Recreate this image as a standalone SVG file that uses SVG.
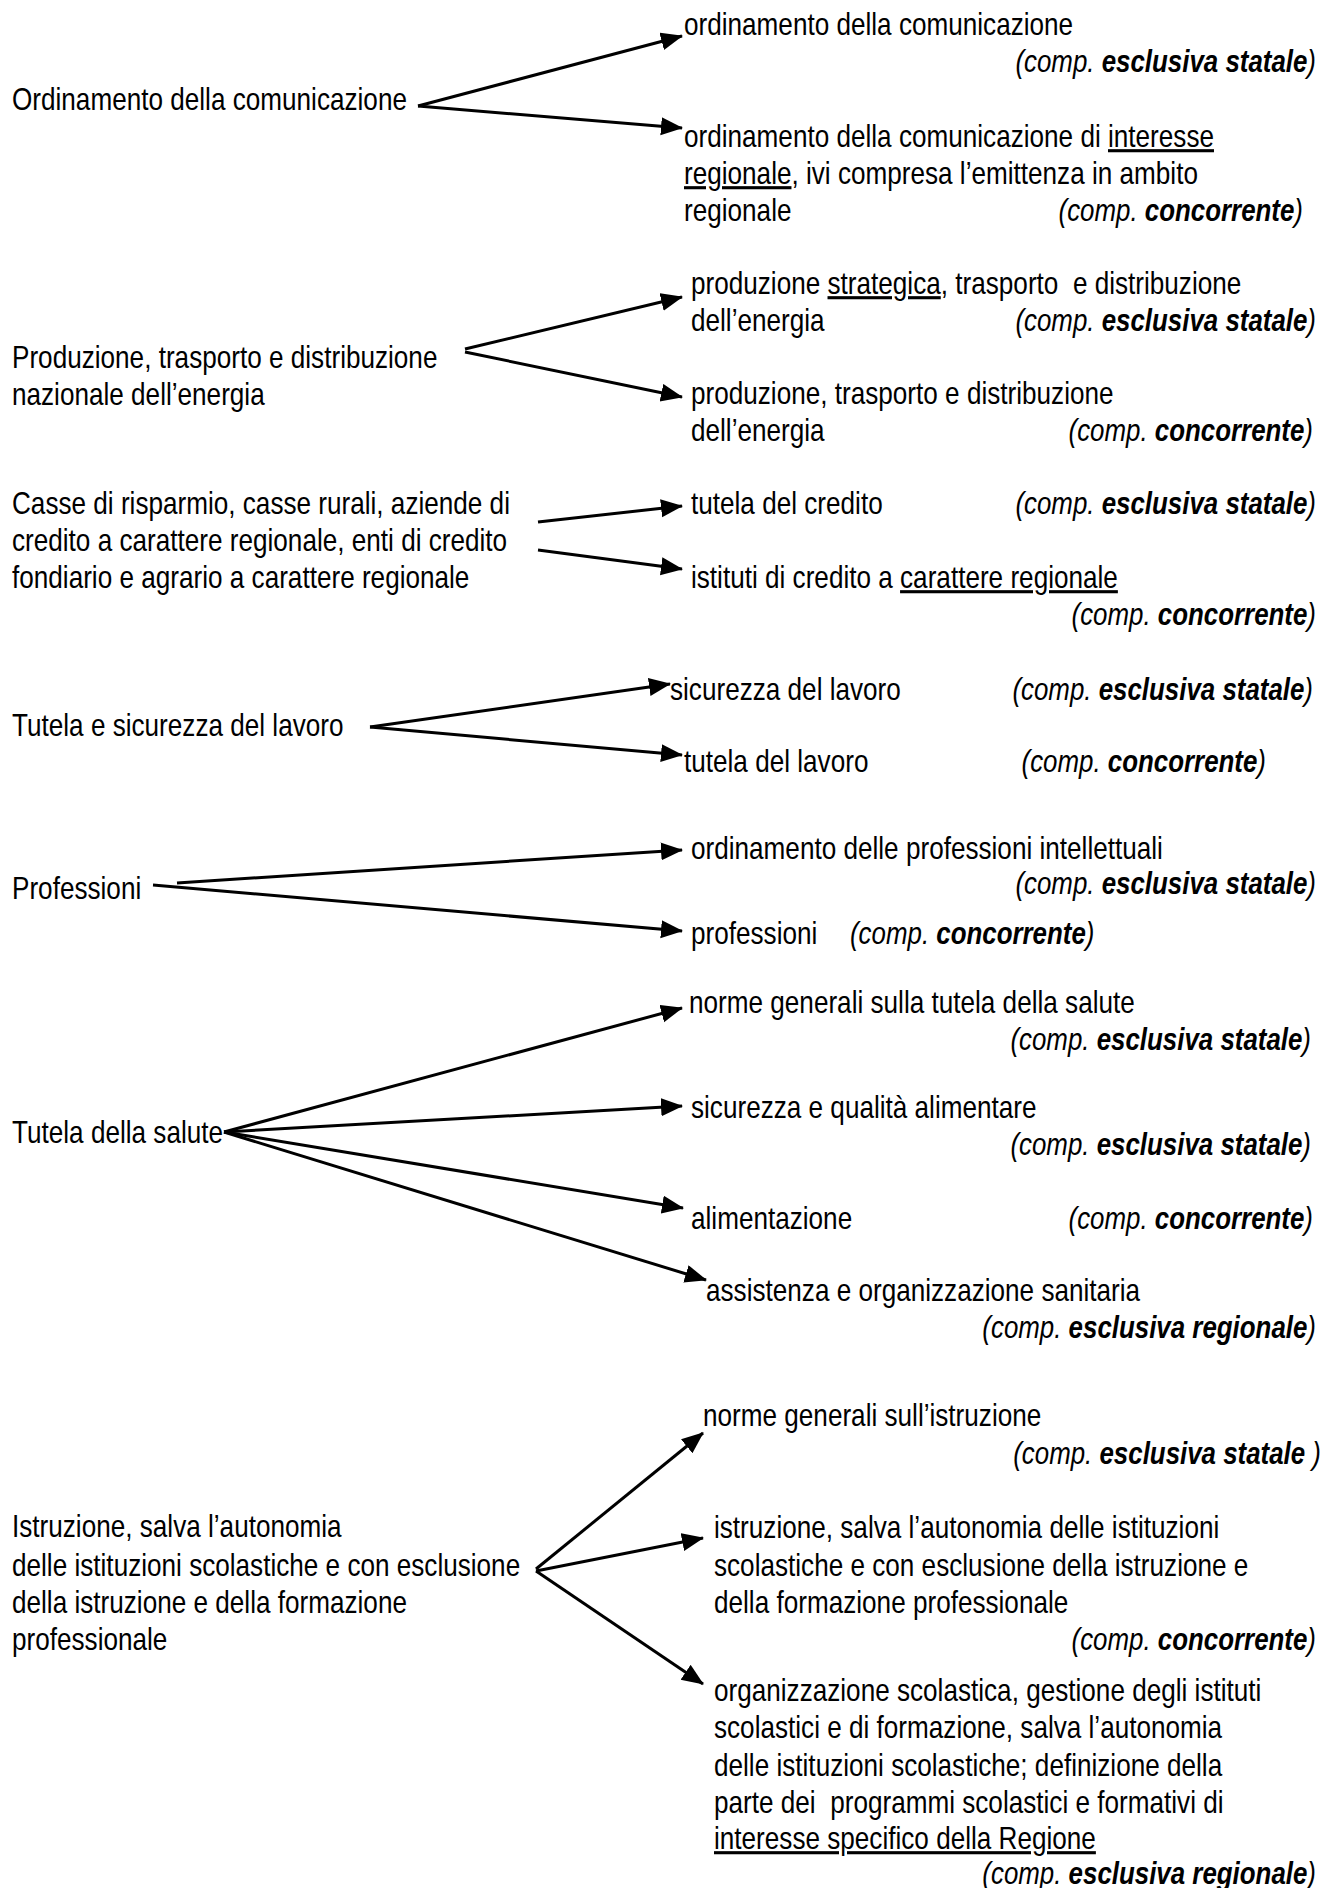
<svg xmlns="http://www.w3.org/2000/svg" width="1325" height="1888" viewBox="0 0 1325 1888">
<style>
text{font-family:"Liberation Sans",Arial,sans-serif;font-size:31px;fill:#000;white-space:pre}
.c{text-anchor:end;font-style:italic}
.i{font-style:italic}
.b{font-weight:bold}
.u{text-decoration:underline}
.a{stroke:#000;stroke-width:3;fill:none;marker-end:url(#ah)}
</style>
<defs>
<marker id="ah" markerUnits="userSpaceOnUse" markerWidth="24" markerHeight="20" refX="21" refY="9" orient="auto"><path d="M0,0 L22,9 L0,18 Z" fill="#000"/></marker>
</defs>
<rect width="1325" height="1888" fill="#fff"/>
<g id="connectors">
<line class="a" x1="418" y1="106" x2="682" y2="36"/>
<line class="a" x1="418" y1="106" x2="682" y2="128"/>
<line class="a" x1="465" y1="349" x2="682" y2="297"/>
<line class="a" x1="465" y1="352" x2="682" y2="397"/>
<line class="a" x1="538" y1="522" x2="682" y2="506"/>
<line class="a" x1="538" y1="550" x2="682" y2="569"/>
<line class="a" x1="370" y1="727" x2="670" y2="684"/>
<line class="a" x1="370" y1="727" x2="682" y2="755"/>
<line class="a" x1="177" y1="883" x2="682" y2="850"/>
<line class="a" x1="153" y1="885" x2="682" y2="931"/>
<line class="a" x1="224" y1="1132" x2="682" y2="1008"/>
<line class="a" x1="224" y1="1132" x2="682" y2="1106"/>
<line class="a" x1="224" y1="1132" x2="683" y2="1208"/>
<line class="a" x1="224" y1="1132" x2="706" y2="1280"/>
<line class="a" x1="536" y1="1569" x2="703" y2="1433"/>
<line class="a" x1="536" y1="1571" x2="703" y2="1538"/>
<line class="a" x1="536" y1="1571" x2="703" y2="1684"/>
</g>
<g id="n1">
<text transform="matrix(.843 0 0 1 12 110)">Ordinamento della comunicazione</text>
</g>
<g id="n1a">
<text transform="matrix(.843 0 0 1 684 35)">ordinamento della comunicazione</text>
<text class="c" transform="matrix(.835 0 0 1 1316 72)">(comp. <tspan class="b">esclusiva statale</tspan>)</text>
</g>
<g id="n1b">
<text transform="matrix(.843 0 0 1 684 147)">ordinamento della comunicazione di <tspan class="u">interesse</tspan></text>
<text transform="matrix(.843 0 0 1 684 184)"><tspan class="u">regionale</tspan>, ivi compresa l’emittenza in ambito</text>
<text transform="matrix(.843 0 0 1 684 221)">regionale</text>
<text class="c" transform="matrix(.835 0 0 1 1303 221)">(comp. <tspan class="b">concorrente</tspan>)</text>
</g>
<g id="n2">
<text transform="matrix(.843 0 0 1 12 368)">Produzione, trasporto e distribuzione</text>
<text transform="matrix(.843 0 0 1 12 405)">nazionale dell’energia</text>
</g>
<g id="n2a">
<text transform="matrix(.843 0 0 1 691 294)">produzione <tspan class="u">strategica</tspan>, trasporto  e distribuzione</text>
<text transform="matrix(.843 0 0 1 691 331)">dell’energia</text>
<text class="c" transform="matrix(.835 0 0 1 1316 331)">(comp. <tspan class="b">esclusiva statale</tspan>)</text>
</g>
<g id="n2b">
<text transform="matrix(.843 0 0 1 691 404)">produzione, trasporto e distribuzione</text>
<text transform="matrix(.843 0 0 1 691 441)">dell’energia</text>
<text class="c" transform="matrix(.835 0 0 1 1313 441)">(comp. <tspan class="b">concorrente</tspan>)</text>
</g>
<g id="n3">
<text transform="matrix(.843 0 0 1 12 514)">Casse di risparmio, casse rurali, aziende di</text>
<text transform="matrix(.843 0 0 1 12 551)">credito a carattere regionale, enti di credito</text>
<text transform="matrix(.843 0 0 1 12 588)">fondiario e agrario a carattere regionale</text>
</g>
<g id="n3a">
<text transform="matrix(.843 0 0 1 691 514)">tutela del credito</text>
<text class="c" transform="matrix(.835 0 0 1 1316 514)">(comp. <tspan class="b">esclusiva statale</tspan>)</text>
</g>
<g id="n3b">
<text transform="matrix(.843 0 0 1 691 588)">istituti di credito a <tspan class="u">carattere regionale</tspan></text>
<text class="c" transform="matrix(.835 0 0 1 1316 625)">(comp. <tspan class="b">concorrente</tspan>)</text>
</g>
<g id="n4">
<text transform="matrix(.843 0 0 1 12 736)">Tutela e sicurezza del lavoro</text>
</g>
<g id="n4a">
<text transform="matrix(.843 0 0 1 670 700)">sicurezza del lavoro</text>
<text class="c" transform="matrix(.835 0 0 1 1313 700)">(comp. <tspan class="b">esclusiva statale</tspan>)</text>
</g>
<g id="n4b">
<text transform="matrix(.843 0 0 1 684 772)">tutela del lavoro</text>
<text class="c" transform="matrix(.835 0 0 1 1266 772)">(comp. <tspan class="b">concorrente</tspan>)</text>
</g>
<g id="n5">
<text transform="matrix(.843 0 0 1 12 899)">Professioni</text>
</g>
<g id="n5a">
<text transform="matrix(.843 0 0 1 691 859)">ordinamento delle professioni intellettuali</text>
<text class="c" transform="matrix(.835 0 0 1 1316 894)">(comp. <tspan class="b">esclusiva statale</tspan>)</text>
</g>
<g id="n5b">
<text transform="matrix(.843 0 0 1 691 944)">professioni</text>
<text class="i" transform="matrix(.835 0 0 1 850 944)">(comp. <tspan class="b">concorrente</tspan>)</text>
</g>
<g id="n6">
<text transform="matrix(.843 0 0 1 12 1143)">Tutela della salute</text>
</g>
<g id="n6a">
<text transform="matrix(.843 0 0 1 689 1013)">norme generali sulla tutela della salute</text>
<text class="c" transform="matrix(.835 0 0 1 1311 1050)">(comp. <tspan class="b">esclusiva statale</tspan>)</text>
</g>
<g id="n6b">
<text transform="matrix(.843 0 0 1 691 1118)">sicurezza e qualità alimentare</text>
<text class="c" transform="matrix(.835 0 0 1 1311 1155)">(comp. <tspan class="b">esclusiva statale</tspan>)</text>
</g>
<g id="n6c">
<text transform="matrix(.843 0 0 1 691 1229)">alimentazione</text>
<text class="c" transform="matrix(.835 0 0 1 1313 1229)">(comp. <tspan class="b">concorrente</tspan>)</text>
</g>
<g id="n6d">
<text transform="matrix(.843 0 0 1 706 1301)">assistenza e organizzazione sanitaria</text>
<text class="c" transform="matrix(.835 0 0 1 1316 1338)">(comp. <tspan class="b">esclusiva regionale</tspan>)</text>
</g>
<g id="n7">
<text transform="matrix(.843 0 0 1 12 1537)">Istruzione, salva l’autonomia</text>
<text transform="matrix(.843 0 0 1 12 1576)">delle istituzioni scolastiche e con esclusione</text>
<text transform="matrix(.843 0 0 1 12 1613)">della istruzione e della formazione</text>
<text transform="matrix(.843 0 0 1 12 1650)">professionale</text>
</g>
<g id="n7a">
<text transform="matrix(.843 0 0 1 703 1426)">norme generali sull’istruzione</text>
<text class="c" transform="matrix(.835 0 0 1 1321 1464)">(comp. <tspan class="b">esclusiva statale </tspan>)</text>
</g>
<g id="n7b">
<text transform="matrix(.843 0 0 1 714 1538)">istruzione, salva l’autonomia delle istituzioni</text>
<text transform="matrix(.843 0 0 1 714 1576)">scolastiche e con esclusione della istruzione e</text>
<text transform="matrix(.843 0 0 1 714 1613)">della formazione professionale</text>
<text class="c" transform="matrix(.835 0 0 1 1316 1650)">(comp. <tspan class="b">concorrente</tspan>)</text>
</g>
<g id="n7c">
<text transform="matrix(.843 0 0 1 714 1701)">organizzazione scolastica, gestione degli istituti</text>
<text transform="matrix(.843 0 0 1 714 1738)">scolastici e di formazione, salva l’autonomia</text>
<text transform="matrix(.843 0 0 1 714 1776)">delle istituzioni scolastiche; definizione della</text>
<text transform="matrix(.843 0 0 1 714 1813)">parte dei  programmi scolastici e formativi di</text>
<text transform="matrix(.843 0 0 1 714 1849)"><tspan class="u">interesse specifico della Regione</tspan></text>
<text class="c" transform="matrix(.835 0 0 1 1316 1884)">(comp. <tspan class="b">esclusiva regionale</tspan>)</text>
</g>
</svg>
